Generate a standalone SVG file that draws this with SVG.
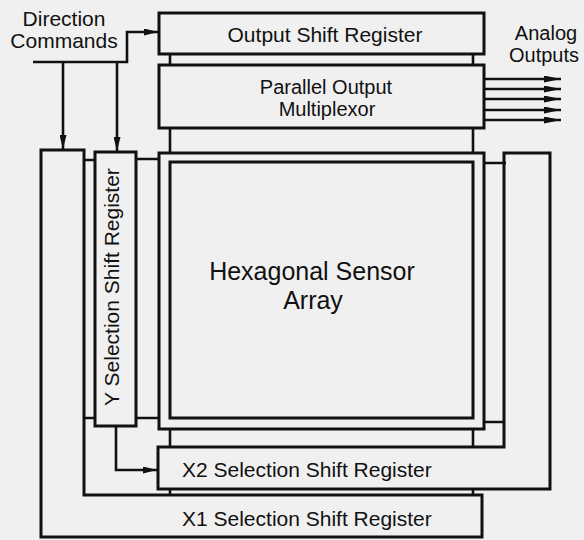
<svg xmlns="http://www.w3.org/2000/svg" width="584" height="540" viewBox="0 0 584 540">
<defs>
<style>
.box{fill:none;stroke:#111;stroke-width:3}
.ln{fill:none;stroke:#111;stroke-width:2.6}
.t{font-family:"Liberation Sans",Arial,sans-serif;font-size:21px;fill:#111}
.s{font-size:20px}
.big{font-size:25px}
</style>
<marker id="ah" markerWidth="14" markerHeight="7" refX="14" refY="3.5" orient="auto" markerUnits="userSpaceOnUse"><path d="M0,0 L14,3.5 L0,7 Z" fill="#111"/></marker>
<marker id="ah2" markerWidth="17" markerHeight="7" refX="17" refY="3.5" orient="auto" markerUnits="userSpaceOnUse"><path d="M0,0 L17,3.5 L0,7 Z" fill="#111"/></marker>
</defs>
<rect width="584" height="540" fill="#f0f0f0"/>
<g id="connectors">
<path class="ln" d="M33,62 H127 V32 H158" marker-end="url(#ah)"/>
<path class="ln" d="M63,62 V149" marker-end="url(#ah)"/>
<path class="ln" d="M117,62 V151" marker-end="url(#ah)"/>
<path class="ln" d="M116,426 V470 H157" marker-end="url(#ah)"/>
<path class="ln" d="M484,79 H561" marker-end="url(#ah2)"/>
<path class="ln" d="M484,89 H561" marker-end="url(#ah2)"/>
<path class="ln" d="M484,99 H561" marker-end="url(#ah2)"/>
<path class="ln" d="M484,110 H561" marker-end="url(#ah2)"/>
<path class="ln" d="M484,120 H561" marker-end="url(#ah2)"/>
<path class="ln" d="M170,54 V65 M473,54 V65 M170,128 V153 M473,128 V153"/>
<path class="ln" d="M84,160 H95 M84,418 H95 M136,159 H159 M136,418 H159"/>
<path class="ln" d="M484,163 H506 M484,422 H504"/>
<path class="ln" d="M170,429 V447 M473,429 V447 M170,489 V495 M473,489 V495"/>
</g>
<g id="direction-commands">
<text class="t" x="64" y="26" text-anchor="middle">Direction</text>
<text class="t" x="64" y="48" text-anchor="middle">Commands</text>
</g>
<g id="analog-outputs">
<text class="t s" x="546" y="40" text-anchor="middle">Analog</text>
<text class="t s" x="544" y="62" text-anchor="middle">Outputs</text>
</g>
<g id="output-shift-register">
<rect class="box" x="159" y="13" width="325" height="41"/>
<text class="t" x="325" y="42" text-anchor="middle">Output Shift Register</text>
</g>
<g id="parallel-output-multiplexor">
<rect class="box" x="159" y="65" width="325" height="63"/>
<text class="t s" x="326" y="94" text-anchor="middle">Parallel Output</text>
<text class="t s" x="327" y="116" text-anchor="middle">Multiplexor</text>
</g>
<g id="x1-selection-shift-register">
<path class="box" d="M41,150 H84 V495 H482 V537 H41 Z"/>
<text class="t" x="182" y="526">X1 Selection Shift Register</text>
</g>
<g id="x2-selection-shift-register">
<path class="box" d="M158,447 H504 V153 H550 V489 H158 Z"/>
<text class="t" x="182" y="477">X2 Selection Shift Register</text>
</g>
<g id="y-selection-shift-register">
<rect class="box" x="95" y="152" width="41" height="274"/>
<text class="t" transform="translate(119,287) rotate(-90)" text-anchor="middle">Y Selection Shift Register</text>
</g>
<g id="hexagonal-sensor-array">
<rect class="box" x="159" y="153" width="325" height="276"/>
<rect class="box" x="170" y="162" width="303" height="256"/>
<text class="t big" x="312" y="280" text-anchor="middle">Hexagonal Sensor</text>
<text class="t big" x="313" y="309" text-anchor="middle">Array</text>
</g>
</svg>
